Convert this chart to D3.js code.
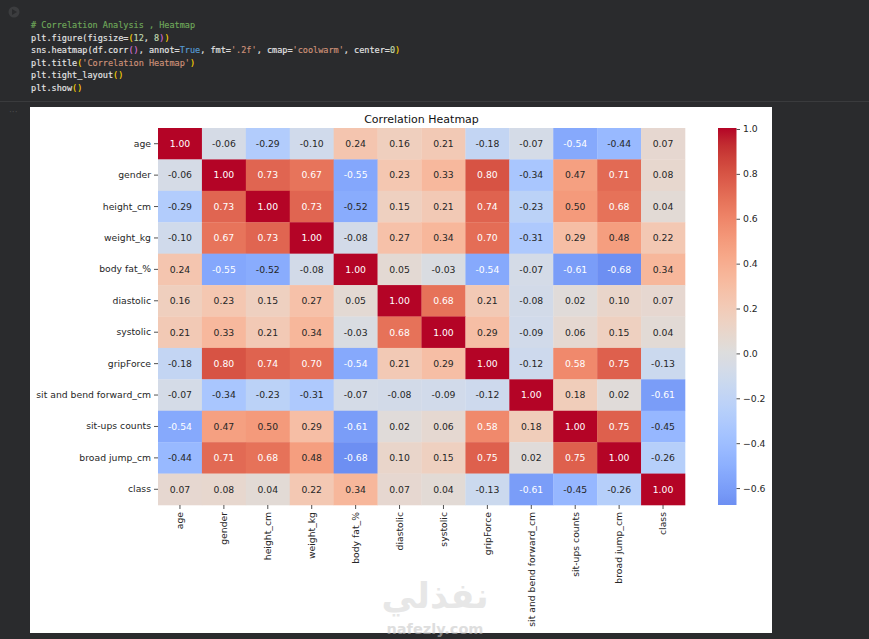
<!DOCTYPE html>
<html>
<head>
<meta charset="utf-8">
<script src="https://cdn.jsdelivr.net/npm/d3@7"></script>
<style>
  html, body { margin: 0; padding: 0; background: #2a2b2d; }
  svg { display: block; }
  text { font-family: "DejaVu Sans", sans-serif; }
  .code text { font-family: "DejaVu Sans Mono", monospace; font-size: 8.52px; stroke-width: 0.15px; paint-order: stroke; }
  .axis path { display: none; }
  .axis line { stroke: #262626; stroke-width: 0.8; }
  .axis text { fill: #262626; font-size: 9.25px; }
</style>
</head>
<body>
<div id="chart"></div>
<script>
const labels = ["age", "gender", "height_cm", "weight_kg", "body fat_%", "diastolic", "systolic",
  "gripForce", "sit and bend forward_cm", "sit-ups counts", "broad jump_cm", "class"];

const corr = [
  [1.00, -0.06, -0.29, -0.10, 0.24, 0.16, 0.21, -0.18, -0.07, -0.54, -0.44, 0.07],
  [-0.06, 1.00, 0.73, 0.67, -0.55, 0.23, 0.33, 0.80, -0.34, 0.47, 0.71, 0.08],
  [-0.29, 0.73, 1.00, 0.73, -0.52, 0.15, 0.21, 0.74, -0.23, 0.50, 0.68, 0.04],
  [-0.10, 0.67, 0.73, 1.00, -0.08, 0.27, 0.34, 0.70, -0.31, 0.29, 0.48, 0.22],
  [0.24, -0.55, -0.52, -0.08, 1.00, 0.05, -0.03, -0.54, -0.07, -0.61, -0.68, 0.34],
  [0.16, 0.23, 0.15, 0.27, 0.05, 1.00, 0.68, 0.21, -0.08, 0.02, 0.10, 0.07],
  [0.21, 0.33, 0.21, 0.34, -0.03, 0.68, 1.00, 0.29, -0.09, 0.06, 0.15, 0.04],
  [-0.18, 0.80, 0.74, 0.70, -0.54, 0.21, 0.29, 1.00, -0.12, 0.58, 0.75, -0.13],
  [-0.07, -0.34, -0.23, -0.31, -0.07, -0.08, -0.09, -0.12, 1.00, 0.18, 0.02, -0.61],
  [-0.54, 0.47, 0.50, 0.29, -0.61, 0.02, 0.06, 0.58, 0.18, 1.00, 0.75, -0.45],
  [-0.44, 0.71, 0.68, 0.48, -0.68, 0.10, 0.15, 0.75, 0.02, 0.75, 1.00, -0.26],
  [0.07, 0.08, 0.04, 0.22, 0.34, 0.07, 0.04, -0.13, -0.61, -0.45, -0.26, 1.00]
];

const colorbarTicks = [-0.6, -0.4, -0.2, 0, 0.2, 0.4, 0.6, 0.8, 1.0];

// notebook cell text, each line is a list of [text, colour] runs
const codeLines = [
  [["# Correlation Analysis , Heatmap", "#6fa85a"]],
  [["plt.figure(figsize=", "#e4e4e4"], ["(", "#ffd700"], ["12", "#c0d8b0"], [", ", "#e4e4e4"], ["8", "#c0d8b0"], [")", "#da70d6"], [")", "#ffd700"]],
  [["sns.heatmap(df.corr", "#e4e4e4"], ["()", "#da70d6"], [", annot=", "#e4e4e4"], ["True", "#569cd6"], [", fmt=", "#e4e4e4"], ["'.2f'", "#ce9178"], [", cmap=", "#e4e4e4"], ["'coolwarm'", "#ce9178"], [", center=", "#e4e4e4"], ["0", "#c0d8b0"], [")", "#ffd700"]],
  [["plt.title", "#e4e4e4"], ["(", "#ffd700"], ["'Correlation Heatmap'", "#ce9178"], [")", "#ffd700"]],
  [["plt.tight_layout", "#e4e4e4"], ["()", "#ffd700"]],
  [["plt.show", "#e4e4e4"], ["()", "#ffd700"]]
];

// matplotlib coolwarm control points
const coolwarmStops = ["#3b4cc0", "#445acc", "#4d68d7", "#5775e1", "#6282ea", "#6c8ef1", "#779af7", "#82a5fb",
  "#8db0fe", "#98b9ff", "#a3c2ff", "#aec9fd", "#b8d0f9", "#c2d5f4", "#ccd9ee", "#d5dbe6", "#dddddd",
  "#e5d8d1", "#ecd3c5", "#f1ccb9", "#f5c4ad", "#f7bba0", "#f7b194", "#f7a687", "#f49a7b", "#f18d6f",
  "#ec7f63", "#e57058", "#de604d", "#d55042", "#cb3e38", "#c0282f", "#b40426"];

const width = 869, height = 639;
const svg = d3.select("#chart").append("svg").attr("width", width).attr("height", height);

// notebook chrome
svg.append("rect").attr("width", width).attr("height", height).attr("fill", "#2a2b2d");
svg.append("rect").attr("x", 0).attr("y", 101).attr("width", width).attr("height", 1).attr("fill", "#3a3b3d");
svg.append("circle").attr("cx", 14).attr("cy", 12).attr("r", 5.5).attr("fill", "#3c3d3f");
svg.append("path").attr("d", "M12 9 L17 12 L12 15 Z").attr("fill", "#2a2b2d");
svg.append("text").attr("x", 9).attr("y", 115).attr("fill", "#4a4b4d").attr("font-size", 9).text("···");

const code = svg.append("g").attr("class", "code");
codeLines.forEach((runs, i) => {
  const t = code.append("text").attr("x", 31).attr("y", 28 + i * 12.6).attr("xml:space", "preserve");
  runs.forEach(r => t.append("tspan").attr("fill", r[1]).attr("stroke", r[1]).text(r[0]));
});

// figure
svg.append("rect").attr("x", 30).attr("y", 107).attr("width", 742).attr("height", 526).attr("fill", "#fff");

const margin = {left: 158, right: 685, top: 128, bottom: 505};

const x = d3.scaleBand().domain(labels).range([margin.left, margin.right]);
const y = d3.scaleBand().domain(labels).range([margin.top, margin.bottom]);

const coolwarm = d3.scaleLinear()
  .domain(coolwarmStops.map((c, i) => i / (coolwarmStops.length - 1)))
  .range(coolwarmStops);
const color = v => coolwarm((v + 1) / 2);

function luminance(c) {
  const f = u => { u /= 255; return u <= 0.03928 ? u / 12.92 : Math.pow((u + 0.055) / 1.055, 2.4); };
  const rgb = d3.rgb(c);
  return 0.2126 * f(rgb.r) + 0.7152 * f(rgb.g) + 0.0722 * f(rgb.b);
}

const cells = corr.flatMap((row, i) => row.map((v, j) => ({row: labels[i], col: labels[j], v: v})));

svg.append("g").selectAll("rect")
  .data(cells)
  .join("rect")
    .attr("x", d => x(d.col))
    .attr("y", d => y(d.row))
    .attr("width", x.bandwidth() + 0.3)
    .attr("height", y.bandwidth() + 0.3)
    .attr("fill", d => color(d.v));

svg.append("g").selectAll("text")
  .data(cells)
  .join("text")
    .attr("x", d => x(d.col) + x.bandwidth() / 2)
    .attr("y", d => y(d.row) + y.bandwidth() / 2)
    .attr("dy", "0.36em")
    .attr("text-anchor", "middle")
    .attr("font-size", 9.25)
    .attr("fill", d => luminance(color(d.v)) > 0.408 ? "#262626" : "#fff")
    .text(d => d.v.toFixed(2));

// axes
svg.append("g").attr("class", "axis")
  .attr("transform", `translate(${margin.left},0)`)
  .call(d3.axisLeft(y).tickSize(4).tickPadding(3));

svg.append("g").attr("class", "axis")
  .attr("transform", `translate(0,${margin.bottom})`)
  .call(d3.axisBottom(x).tickSize(4).tickPadding(3))
  .selectAll("text")
    .attr("text-anchor", "end")
    .attr("transform", "rotate(-90)")
    .attr("x", -7)
    .attr("y", 0)
    .attr("dx", 0)
    .attr("dy", "0.36em");

svg.append("text")
  .attr("x", 421.5)
  .attr("y", 122.5)
  .attr("text-anchor", "middle")
  .attr("font-size", 11)
  .attr("fill", "#111")
  .text("Correlation Heatmap");

// colorbar
const barX = 718, barW = 18.5;
const minV = d3.min(corr.flat()), maxV = d3.max(corr.flat());
const cbScale = d3.scaleLinear().domain([minV, maxV]).range([margin.bottom, margin.top]);

const defs = svg.append("defs");
const grad = defs.append("linearGradient").attr("id", "cb")
  .attr("x1", 0).attr("x2", 0).attr("y1", 1).attr("y2", 0);
d3.range(0, 1.0001, 1 / 64).forEach(t => {
  grad.append("stop").attr("offset", t).attr("stop-color", color(minV + t * (maxV - minV)));
});
svg.append("rect")
  .attr("x", barX).attr("y", margin.top)
  .attr("width", barW).attr("height", margin.bottom - margin.top)
  .attr("fill", "url(#cb)");

svg.append("g").attr("class", "axis")
  .attr("transform", `translate(${barX + barW},1)`)
  .call(d3.axisRight(cbScale).tickValues(colorbarTicks).tickSize(3.5).tickPadding(3)
    .tickFormat(d => d3.format(".1f")(d).replace("-", "\u2212")));

// watermark
svg.append("text").attr("x", 435).attr("y", 608).attr("text-anchor", "middle")
  .attr("font-size", 35).attr("font-weight", "bold").attr("fill", "#bbb").attr("opacity", 0.35)
  .text("نفذلي");
svg.append("text").attr("x", 435).attr("y", 634).attr("text-anchor", "middle")
  .attr("font-size", 14.5).attr("font-weight", "bold").attr("fill", "#c4c4c4").attr("opacity", 0.55)
  .text("nafezly.com");
</script>
</body>
</html>
